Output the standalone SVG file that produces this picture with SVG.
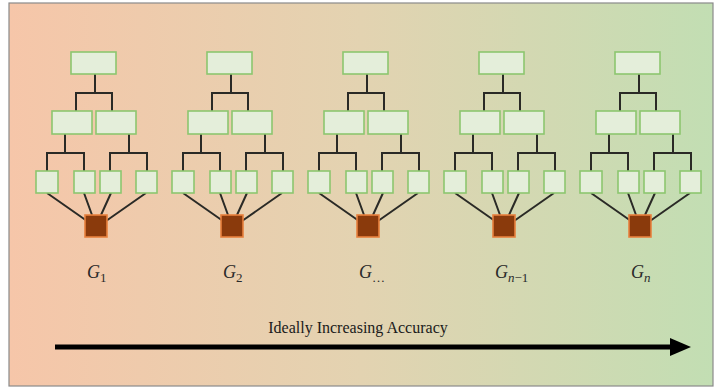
<svg xmlns="http://www.w3.org/2000/svg" width="716" height="388" viewBox="0 0 716 388">
<defs>
<linearGradient id="bg" x1="0" y1="0" x2="1" y2="0">
<stop offset="0" stop-color="#F6C6A9"/>
<stop offset="0.5" stop-color="#E3D3B1"/>
<stop offset="1" stop-color="#C2DEB3"/>
</linearGradient>
<style>
.box{fill:#E4EEDA;stroke:#8CC66F;stroke-width:1.6}
.root{fill:#8A3A0C;stroke:#E8813E;stroke-width:1.6}
.ln{fill:none;stroke:#2A2A26;stroke-width:2}
.lbl{font-family:"Liberation Serif",serif;font-style:italic;font-size:18px;fill:#2a2a2a}
.sub{font-size:13px}
.up{font-style:normal}
.title{font-family:"Liberation Serif",serif;font-size:16px;fill:#1a1a1a}
</style>
</defs>
<rect x="9" y="3" width="704" height="383" fill="url(#bg)" stroke="#8a8a8a" stroke-width="1.2"/>

<g id="connectors">
<g id="conn-t1">
<path class="ln" d="M95,74V93M76,111V93H112V111M65,134V153M47,171V153H84V171M129,134V153M110,171V153H147V171M47,193L87,221M84,193L92,215M111,193L101,215M146,193L106,221"/>
</g>
<g id="conn-t2" transform="translate(136,0)">
<path class="ln" d="M95,74V93M76,111V93H112V111M65,134V153M47,171V153H84V171M129,134V153M110,171V153H147V171M47,193L87,221M84,193L92,215M111,193L101,215M146,193L106,221"/>
</g>
<g id="conn-t3" transform="translate(272,0)">
<path class="ln" d="M95,74V93M76,111V93H112V111M65,134V153M47,171V153H84V171M129,134V153M110,171V153H147V171M47,193L87,221M84,193L92,215M111,193L101,215M146,193L106,221"/>
</g>
<g id="conn-t4" transform="translate(408,0)">
<path class="ln" d="M95,74V93M76,111V93H112V111M65,134V153M47,171V153H84V171M129,134V153M110,171V153H147V171M47,193L87,221M84,193L92,215M111,193L101,215M146,193L106,221"/>
</g>
<g id="conn-t5" transform="translate(544,0)">
<path class="ln" d="M95,74V93M76,111V93H112V111M65,134V153M47,171V153H84V171M129,134V153M110,171V153H147V171M47,193L87,221M84,193L92,215M111,193L101,215M146,193L106,221"/>
</g>
<g id="accuracy-arrow">
<line x1="55" y1="347" x2="672" y2="347" stroke="#000" stroke-width="5"/>
<polygon points="670,338 691,347 670,356" fill="#000"/>
</g>
</g>

<g id="tree1">
<g id="t1-top"><rect class="box" x="71" y="52" width="45" height="22"/></g>
<g id="t1-midL"><rect class="box" x="52" y="111" width="40" height="23"/></g>
<g id="t1-midR"><rect class="box" x="96" y="111" width="40" height="23"/></g>
<g id="t1-b1"><rect class="box" x="36" y="171" width="22" height="22"/></g>
<g id="t1-b2"><rect class="box" x="74" y="171" width="21" height="22"/></g>
<g id="t1-b3"><rect class="box" x="100" y="171" width="21" height="22"/></g>
<g id="t1-b4"><rect class="box" x="136" y="171" width="21" height="22"/></g>
<g id="t1-root"><rect class="root" x="85" y="215" width="22" height="22"/></g>
</g>
<g id="tree2" transform="translate(136,0)">
<g id="t2-top"><rect class="box" x="71" y="52" width="45" height="22"/></g>
<g id="t2-midL"><rect class="box" x="52" y="111" width="40" height="23"/></g>
<g id="t2-midR"><rect class="box" x="96" y="111" width="40" height="23"/></g>
<g id="t2-b1"><rect class="box" x="36" y="171" width="22" height="22"/></g>
<g id="t2-b2"><rect class="box" x="74" y="171" width="21" height="22"/></g>
<g id="t2-b3"><rect class="box" x="100" y="171" width="21" height="22"/></g>
<g id="t2-b4"><rect class="box" x="136" y="171" width="21" height="22"/></g>
<g id="t2-root"><rect class="root" x="85" y="215" width="22" height="22"/></g>
</g>
<g id="tree3" transform="translate(272,0)">
<g id="t3-top"><rect class="box" x="71" y="52" width="45" height="22"/></g>
<g id="t3-midL"><rect class="box" x="52" y="111" width="40" height="23"/></g>
<g id="t3-midR"><rect class="box" x="96" y="111" width="40" height="23"/></g>
<g id="t3-b1"><rect class="box" x="36" y="171" width="22" height="22"/></g>
<g id="t3-b2"><rect class="box" x="74" y="171" width="21" height="22"/></g>
<g id="t3-b3"><rect class="box" x="100" y="171" width="21" height="22"/></g>
<g id="t3-b4"><rect class="box" x="136" y="171" width="21" height="22"/></g>
<g id="t3-root"><rect class="root" x="85" y="215" width="22" height="22"/></g>
</g>
<g id="tree4" transform="translate(408,0)">
<g id="t4-top"><rect class="box" x="71" y="52" width="45" height="22"/></g>
<g id="t4-midL"><rect class="box" x="52" y="111" width="40" height="23"/></g>
<g id="t4-midR"><rect class="box" x="96" y="111" width="40" height="23"/></g>
<g id="t4-b1"><rect class="box" x="36" y="171" width="22" height="22"/></g>
<g id="t4-b2"><rect class="box" x="74" y="171" width="21" height="22"/></g>
<g id="t4-b3"><rect class="box" x="100" y="171" width="21" height="22"/></g>
<g id="t4-b4"><rect class="box" x="136" y="171" width="21" height="22"/></g>
<g id="t4-root"><rect class="root" x="85" y="215" width="22" height="22"/></g>
</g>
<g id="tree5" transform="translate(544,0)">
<g id="t5-top"><rect class="box" x="71" y="52" width="45" height="22"/></g>
<g id="t5-midL"><rect class="box" x="52" y="111" width="40" height="23"/></g>
<g id="t5-midR"><rect class="box" x="96" y="111" width="40" height="23"/></g>
<g id="t5-b1"><rect class="box" x="36" y="171" width="22" height="22"/></g>
<g id="t5-b2"><rect class="box" x="74" y="171" width="21" height="22"/></g>
<g id="t5-b3"><rect class="box" x="100" y="171" width="21" height="22"/></g>
<g id="t5-b4"><rect class="box" x="136" y="171" width="21" height="22"/></g>
<g id="t5-root"><rect class="root" x="85" y="215" width="22" height="22"/></g>
</g>

<g id="labels">
<text class="lbl" x="87" y="278">G<tspan class="sub up" dy="4">1</tspan></text>
<text class="lbl" x="223" y="278">G<tspan class="sub up" dy="4">2</tspan></text>
<text class="lbl" x="359" y="278">G<tspan class="sub up" dy="4">…</tspan></text>
<text class="lbl" x="495" y="278">G<tspan class="sub" dy="4">n</tspan><tspan class="sub up">−1</tspan></text>
<text class="lbl" x="631" y="278">G<tspan class="sub" dy="4">n</tspan></text>
<text class="title" x="358" y="333" text-anchor="middle">Ideally Increasing Accuracy</text>
</g>
</svg>
